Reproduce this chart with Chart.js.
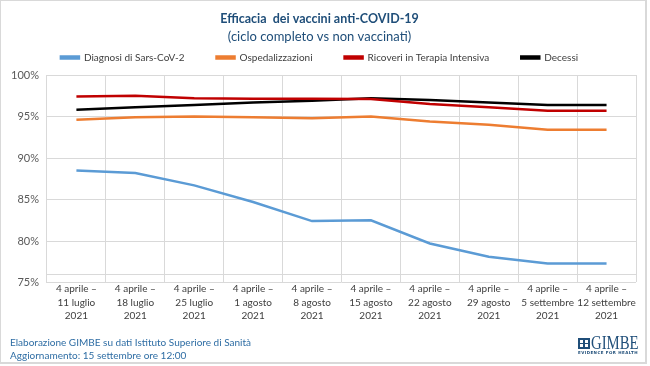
<!DOCTYPE html>
<html>
<head>
<meta charset="utf-8">
<script src="https://cdn.jsdelivr.net/npm/chart.js@4"></script>
<style>
  html, body { margin: 0; padding: 0; background: #fff; }
  #wrap { position: relative; width: 650px; height: 366px; overflow: hidden; }
  #frame { position: absolute; left: 0; top: 0; width: 644px; height: 361px; border: 1px solid #d9d9d9; border-right-width: 2px; border-bottom-width: 2px; }
  canvas { position: absolute; left: 0; top: 0; }
  .foot { position: absolute; left: 10px; font-family: Lato, "Open Sans", sans-serif; font-size: 10px; color: #2E6DA4; white-space: nowrap; }
  #logo { position: absolute; left: 578px; top: 336px; width: 66px; height: 22px; color: #1F4E79; font-family: "Liberation Serif", serif; }
  #logo .mark { position: absolute; left: 0; top: 2px; width: 12px; height: 11px; background: #1F4E79; }
  #logo .mark i { position: absolute; background: #fff; }
  #logo .name { position: absolute; left: 13px; top: -2px; font-size: 18px; line-height: 18px; transform: scaleX(0.82); transform-origin: 0 0; }
  #logo .tag { position: absolute; left: 0px; top: 14px; font-family: "DejaVu Sans", sans-serif; font-size: 4px; letter-spacing: 0.45px; font-weight: bold; white-space: nowrap; }
</style>
</head>
<body>
<div id="wrap">
  <canvas id="c" width="650" height="366"></canvas>
  <div id="frame"></div>
  <div class="foot" style="top:336px">Elaborazione GIMBE su dati Istituto Superiore di Sanità</div>
  <div class="foot" style="top:349px">Aggiornamento: 15 settembre ore 12:00</div>
  <div id="logo">
    <div class="mark"><i style="left:2px;top:2px;width:3px;height:3px"></i><i style="left:7px;top:2px;width:3px;height:3px"></i><i style="left:2px;top:6px;width:3px;height:3px"></i><i style="left:7px;top:6px;width:3px;height:3px"></i></div>
    <div class="name">GIMBE</div>
    <div class="tag">EVIDENCE FOR HEALTH</div>
  </div>
</div>
<script>
const categories = [
  ['4 aprile –', '11 luglio', '2021'],
  ['4 aprile –', '18 luglio', '2021'],
  ['4 aprile –', '25 luglio', '2021'],
  ['4 aprile –', '1 agosto', '2021'],
  ['4 aprile –', '8 agosto', '2021'],
  ['4 aprile –', '15 agosto', '2021'],
  ['4 aprile –', '22 agosto', '2021'],
  ['4 aprile –', '29 agosto', '2021'],
  ['4 aprile –', '5 settembre', '2021'],
  ['4 aprile –', '12 settembre', '2021']
];
const seriesNames = ['Diagnosi di Sars-CoV-2', 'Ospedalizzazioni', 'Ricoveri in Terapia Intensiva', 'Decessi'];
const diagnosi         = [88.5, 88.2, 86.7, 84.7, 82.4, 82.5, 79.7, 78.1, 77.3, 77.3];
const ospedalizzazioni = [94.6, 94.9, 95.0, 94.9, 94.8, 95.0, 94.4, 94.0, 93.4, 93.4];
const terapiaIntensiva = [97.4, 97.5, 97.2, 97.15, 97.15, 97.1, 96.5, 96.1, 95.7, 95.7];
const decessi          = [95.8, 96.1, 96.4, 96.7, 96.9, 97.2, 97.0, 96.7, 96.4, 96.4];
const yTicks = [75, 80, 85, 90, 95, 100];
const colors = ['#5B9BD5', '#ED7D31', '#C00000', '#000000'];

const FONT = 'Lato, "Open Sans", sans-serif';
const allSeries = [diagnosi, ospedalizzazioni, terapiaIntensiva, decessi];

// shrink the empty space under the legend row
const legendTrim = {
  id: 'legendTrim',
  beforeLayout(chart) {
    const lg = chart.legend;
    if (lg && !lg._trimmed) {
      const orig = lg.fit.bind(lg);
      lg.fit = function () { orig(); this.height -= 6; };
      lg._trimmed = true;
    }
  }
};

new Chart(document.getElementById('c'), {
  type: 'line',
  data: {
    labels: categories,
    datasets: allSeries.map((d, i) => ({
      label: seriesNames[i],
      data: d,
      borderColor: colors[i],
      backgroundColor: colors[i],
      borderWidth: 2.5,
      pointRadius: 0,
      tension: 0,
      fill: false
    }))
  },
  plugins: [legendTrim],
  options: {
    responsive: false,
    animation: false,
    devicePixelRatio: 1,
    layout: { padding: { left: 3, right: 14, top: 4, bottom: 31 } },
    plugins: {
      title: {
        display: true,
        text: 'Efficacia  dei vaccini anti-COVID-19',
        color: '#1F4E79',
        font: { family: FONT, size: 12.5, weight: 'bold' },
        padding: { top: 7, bottom: 3 }
      },
      subtitle: {
        display: true,
        text: '(ciclo completo vs non vaccinati)',
        color: '#1F4E79',
        font: { family: FONT, size: 13 },
        padding: { top: 0, bottom: -24 }
      },
      legend: {
        display: true,
        labels: {
          color: '#404040',
          font: { family: FONT, size: 10 },
          boxWidth: 18,
          boxHeight: 2,
          padding: 32
        }
      },
      tooltip: { enabled: false }
    },
    scales: {
      x: {
        offset: true,
        grid: { offset: true, color: '#d9d9d9', lineWidth: 1, tickLength: 4, drawTicks: true },
        border: { color: '#d9d9d9' },
        ticks: {
          color: '#404040',
          font: { family: FONT, size: 10, lineHeight: 1.35 },
          maxRotation: 0,
          autoSkip: false,
          padding: 4
        }
      },
      y: {
        min: 75,
        max: 100,
        afterBuildTicks: (axis) => { axis.ticks = yTicks.map(v => ({ value: v })); },
        grid: { color: '#d9d9d9', lineWidth: 1, drawTicks: false },
        border: { color: '#d9d9d9' },
        ticks: {
          color: '#595959',
          font: { family: FONT, size: 11 },
          padding: 8,
          callback: (v) => v + '%'
        }
      }
    }
  }
});
</script>
</body>
</html>
